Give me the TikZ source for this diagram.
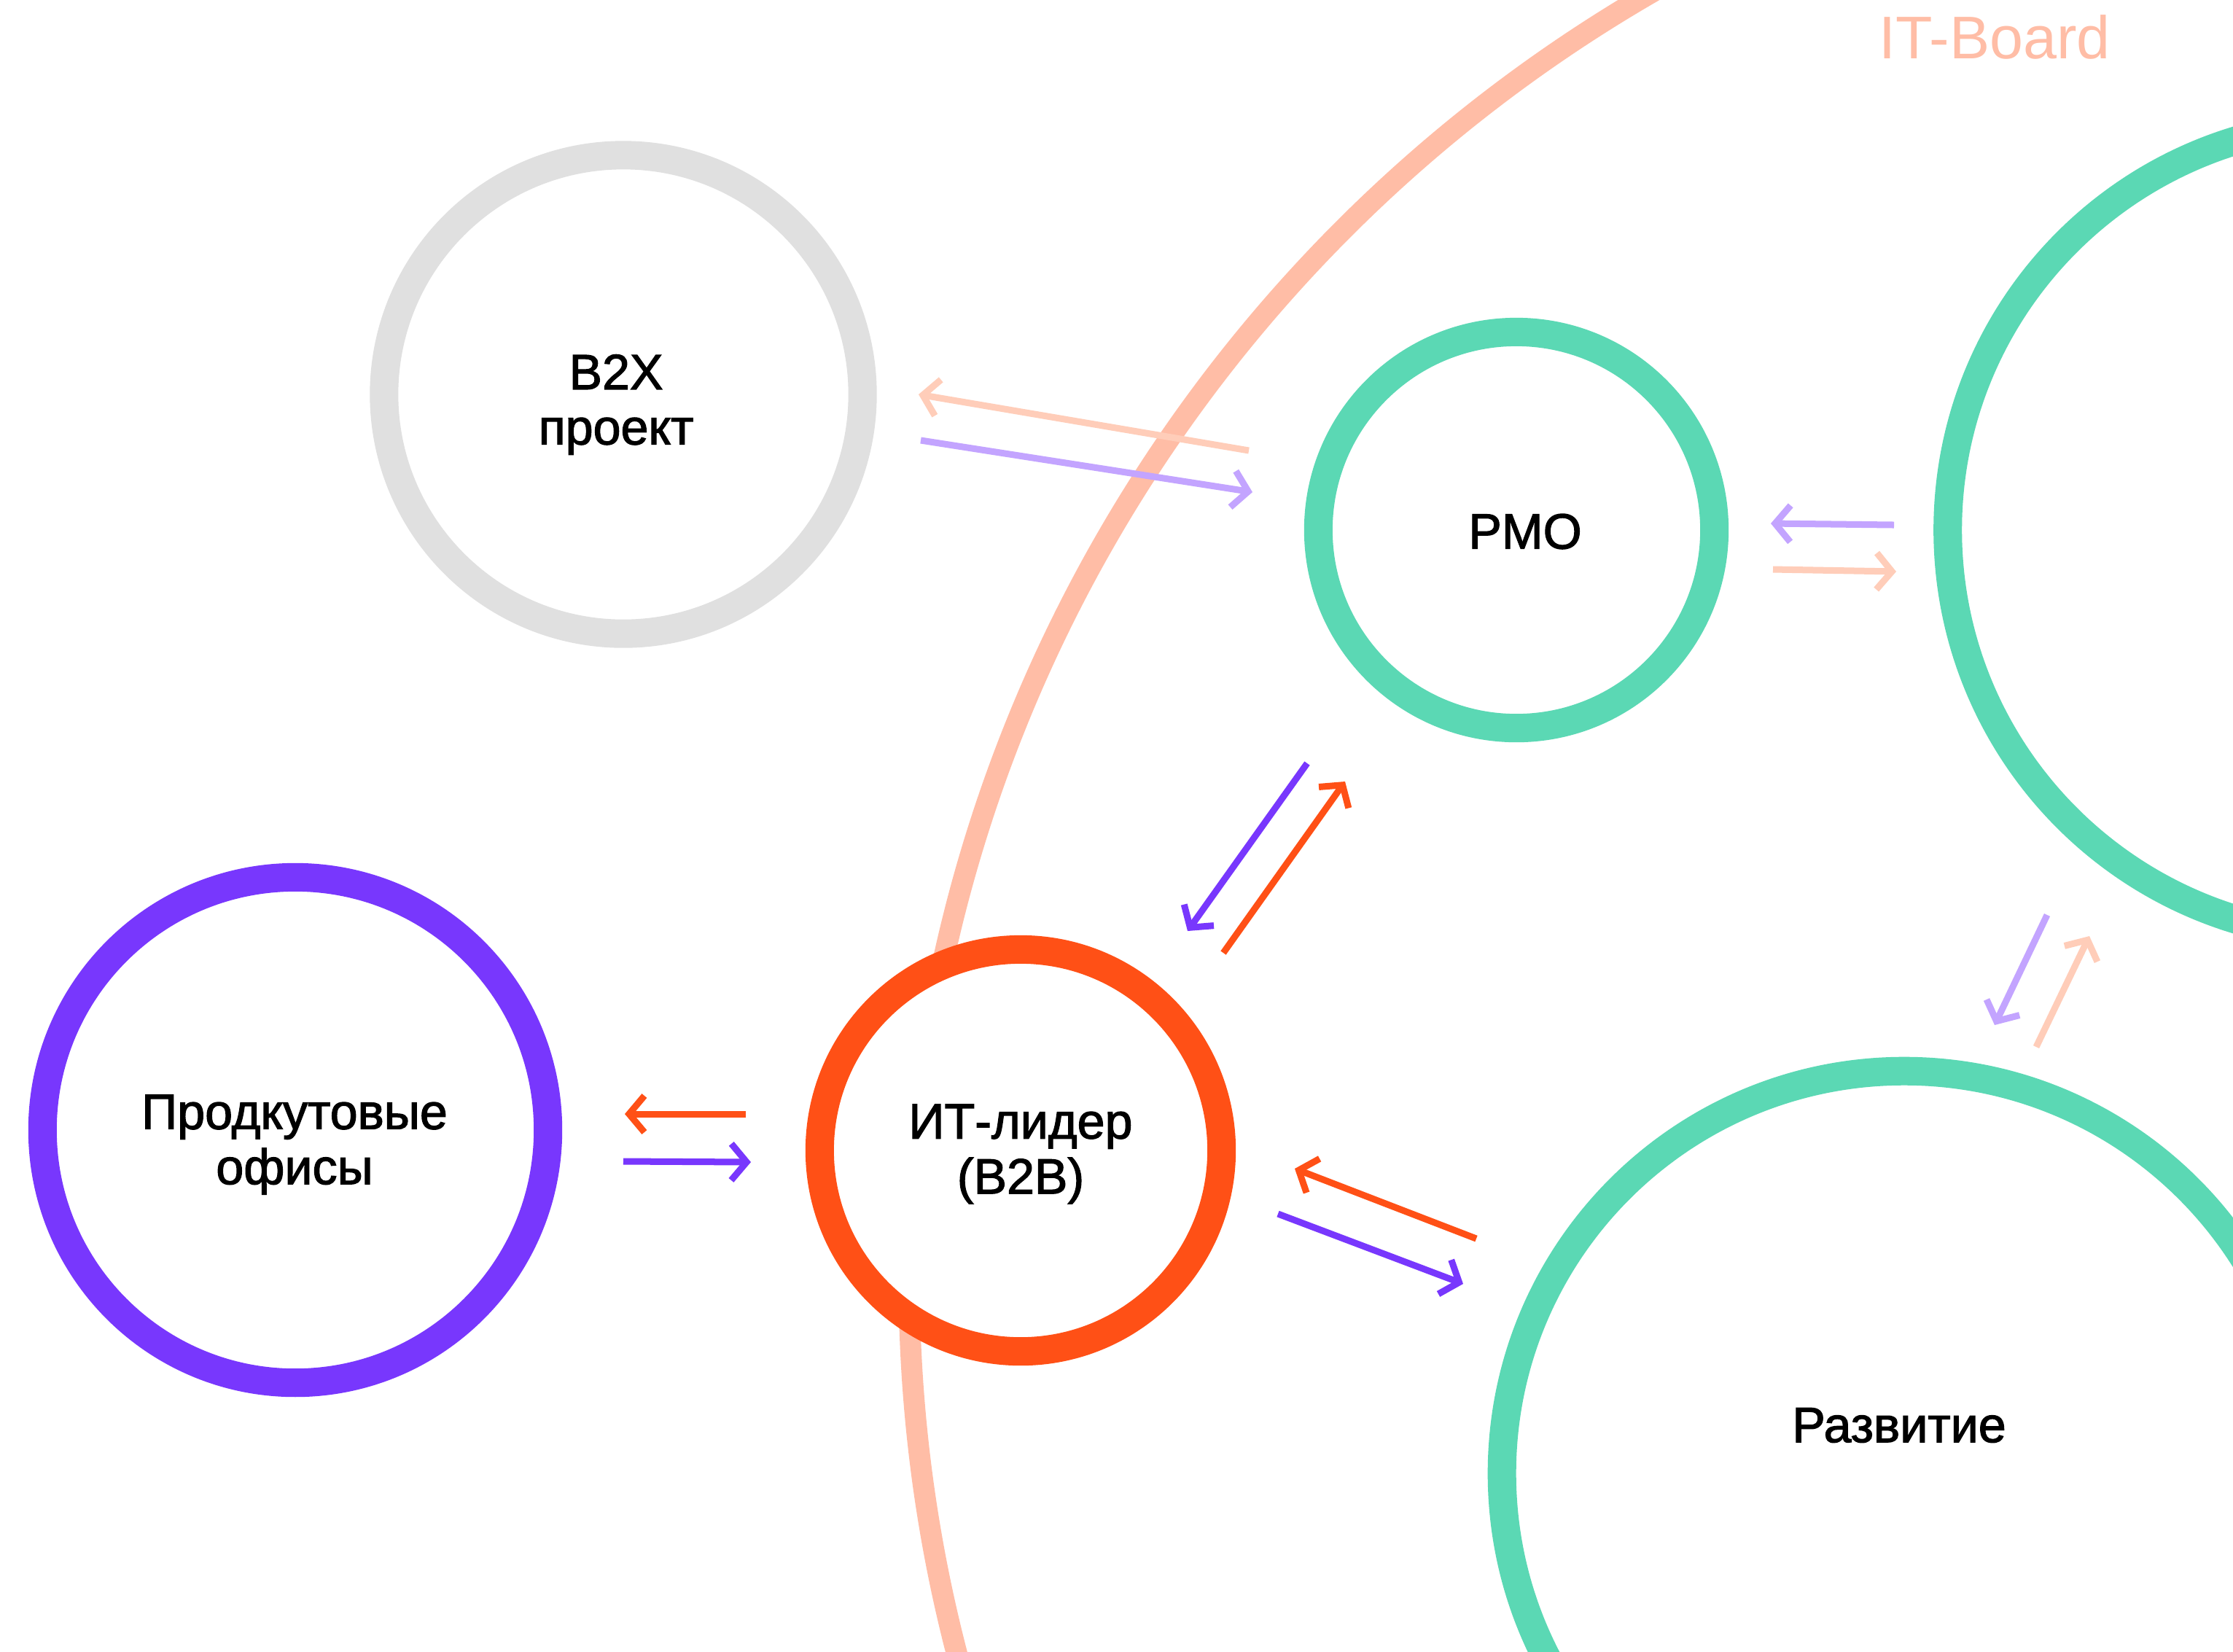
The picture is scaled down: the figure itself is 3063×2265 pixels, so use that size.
\documentclass[tikz,border=0pt]{standalone}
\usepackage{fontspec}
\setmainfont{Liberation Sans}
\newfontfamily\lblfont{Liberation Sans}[FakeBold=1.8]
\usetikzlibrary{arrows.meta}
\definecolor{ringgreen}{HTML}{5BD8B4}
\definecolor{ringgray}{HTML}{E0E0E0}
\definecolor{ringpurple}{HTML}{7837FD}
\definecolor{ringorange}{HTML}{FF5016}
\definecolor{boardsalmon}{HTML}{FFBDA6}
\definecolor{arrsalmon}{HTML}{FFCDB9}
\definecolor{arrlilac}{HTML}{C3A4FF}
\begin{document}
\begin{tikzpicture}[x=0.01cm,y=-0.01cm,
  ring/.style={circle, draw, inner sep=0pt, outer sep=0pt, line width=0.39cm, fill=white},
  arr/.style={line width=0.09cm, -{Straight Barb[length=0.21cm, width=0.5cm]}},
  lbl/.style={font=\lblfont\fontsize{19.4}{21.5}\selectfont, align=center, text=black, inner sep=0pt},
  boardtext/.style={font=\fontsize{23.5}{26}\selectfont, text=boardsalmon, inner sep=0pt}]
\useasboundingbox (0,0) rectangle (3063,2265);
\fill[white] (0,0) rectangle (3063,2265);
\clip (0,0) rectangle (3063,2265);
% IT-Board boundary
\draw[boardsalmon, line width=0.29cm] (3284,1754) circle (2037);
\node[boardtext] (board) at (2736,51) {IT-Board};
% circles
\node[ring, draw=ringgray, minimum size=6.56cm] (b2x) at (855,541) {};
\node[ring, draw=ringgreen, minimum size=5.43cm] (pmo) at (2080,727) {};
\node[ring, draw=ringgreen, minimum size=11.16cm] (right) at (3230,727) {};
\node[ring, draw=ringgreen, minimum size=11.03cm] (razv) at (2612,2021) {};
\node[ring, draw=ringpurple, minimum size=6.93cm] (prod) at (405,1550) {};
\node[ring, draw=ringorange, minimum size=5.51cm] (itl) at (1400,1578) {};
% labels
\node[lbl] (b2xt) at (845,555) {B2X\\проект};
\node[lbl] (pmot) at (2092,729) {PMO};
\node[lbl] (prodt) at (404,1570) {Продкутовые\\офисы};
\node[lbl] (itlt) at (1400,1583) {ИТ-лидер\\(B2B)};
\node[lbl] (razvt) at (2605,1955) {Развитие};
% arrow end points
\coordinate (a1s) at (1713,618); \coordinate (a1e) at (1260,541);
\coordinate (a2s) at (1263,604); \coordinate (a2e) at (1718,675);
\coordinate (a3s) at (2598,720); \coordinate (a3e) at (2429,718);
\coordinate (a4s) at (2432,781); \coordinate (a4e) at (2601,784);
\coordinate (a5s) at (1793,1047); \coordinate (a5e) at (1629,1277);
\coordinate (a6s) at (1678,1307); \coordinate (a6e) at (1845,1072);
\coordinate (a7s) at (1023,1528); \coordinate (a7e) at (857,1528);
\coordinate (a8s) at (855,1593); \coordinate (a8e) at (1030,1594);
\coordinate (a9s) at (2025,1699); \coordinate (a9e) at (1776,1603);
\coordinate (a10s) at (1753,1665); \coordinate (a10e) at (2007,1761);
\coordinate (a11s) at (2808,1255); \coordinate (a11e) at (2736,1406);
\coordinate (a12s) at (2793,1436); \coordinate (a12e) at (2866,1284);
% arrows
\draw[arr, arrsalmon] (a1s) -- (a1e);
\draw[arr, arrlilac] (a2s) -- (a2e);
\draw[arr, arrlilac] (a3s) -- (a3e);
\draw[arr, arrsalmon] (a4s) -- (a4e);
\draw[arr, ringpurple] (a5s) -- (a5e);
\draw[arr, ringorange] (a6s) -- (a6e);
\draw[arr, ringorange] (a7s) -- (a7e);
\draw[arr, ringpurple] (a8s) -- (a8e);
\draw[arr, ringorange] (a9s) -- (a9e);
\draw[arr, ringpurple] (a10s) -- (a10e);
\draw[arr, arrlilac] (a11s) -- (a11e);
\draw[arr, arrsalmon] (a12s) -- (a12e);
\end{tikzpicture}
\end{document}
